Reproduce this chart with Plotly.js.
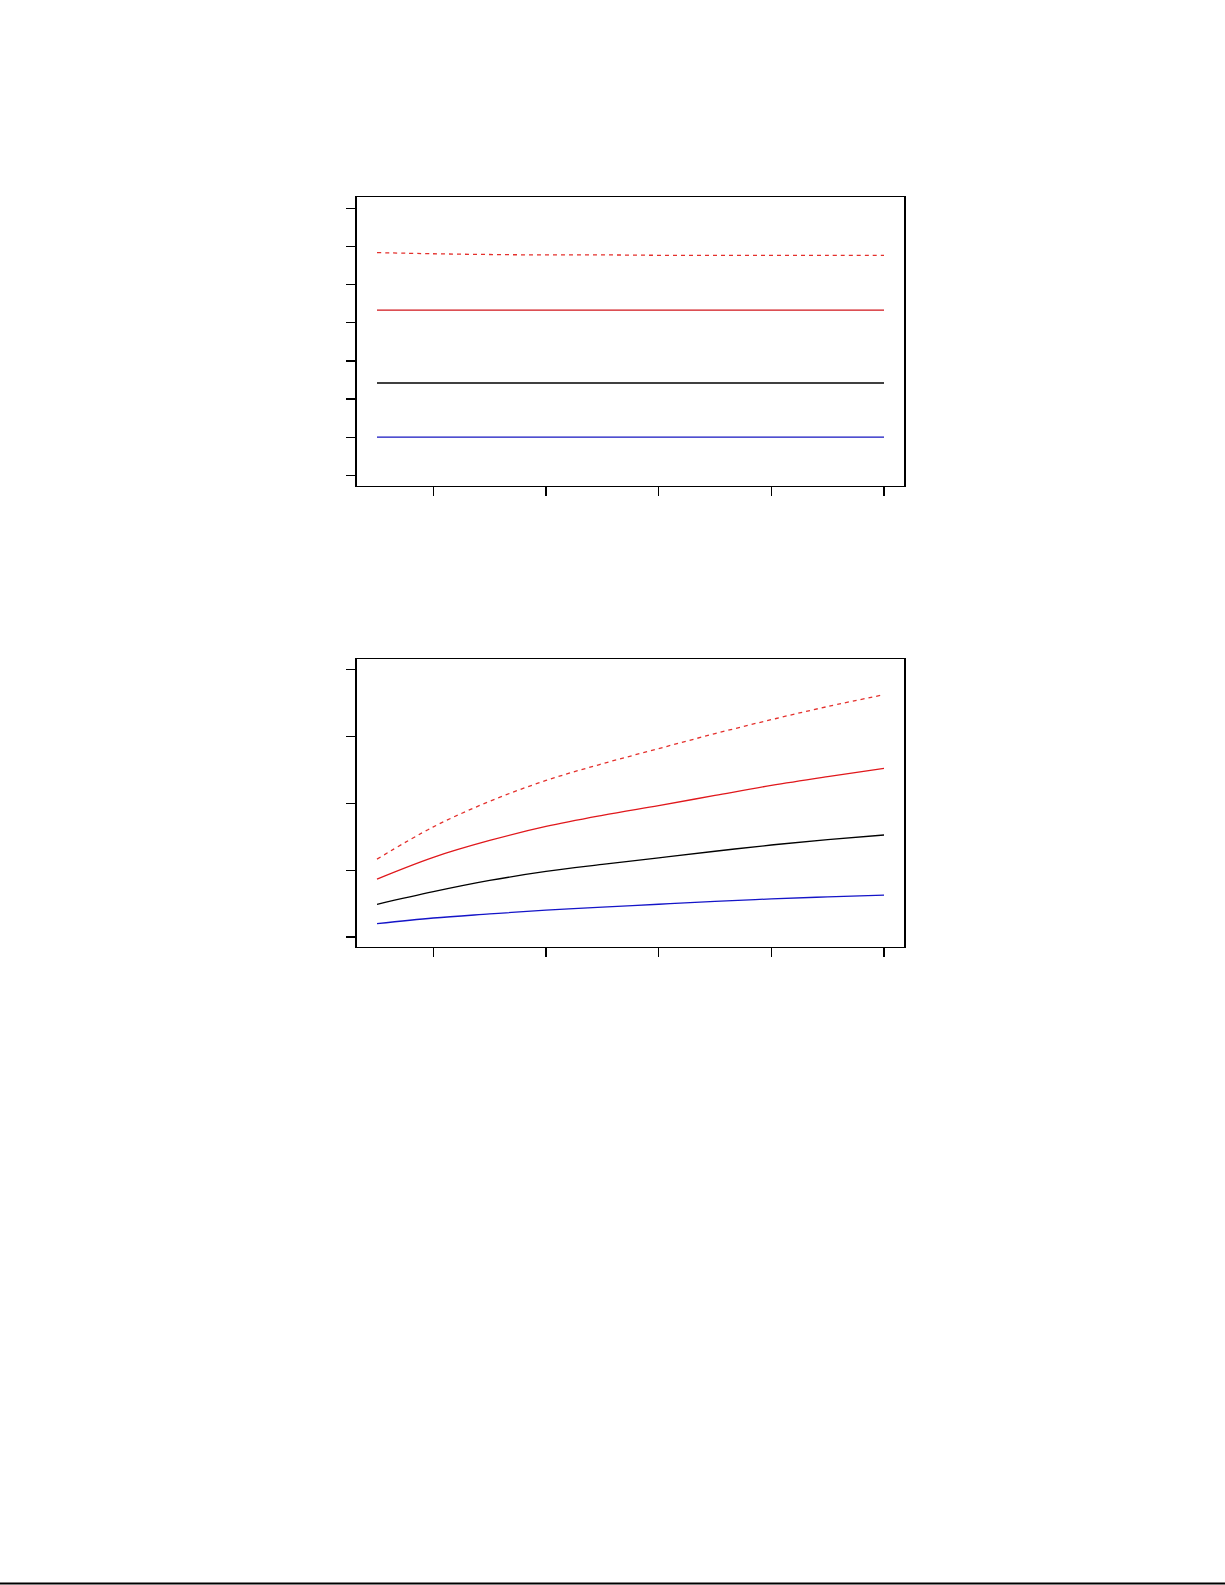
<!DOCTYPE html>
<html>
<head>
<meta charset="utf-8">
<script src="https://cdn.plot.ly/plotly-3.0.1.min.js"></script>
<style>
  html, body { margin: 0; padding: 0; background: #fff; }
</style>
</head>
<body>
<div id="myDiv" style="width:1225px;height:1585px;"></div>
<script>
var xVals = [1, 2, 3, 4, 5, 6, 7, 8, 9, 10];
var xTicks = [2, 4, 6, 8, 10];

// upper panel
var topBlue      = [1.00, 1.00, 1.00, 1.00, 1.00, 1.00, 1.00, 1.00, 1.00, 1.00];
var topBlack     = [2.42, 2.42, 2.42, 2.42, 2.42, 2.42, 2.42, 2.42, 2.42, 2.42];
var topRed       = [4.33, 4.33, 4.33, 4.33, 4.33, 4.33, 4.33, 4.33, 4.33, 4.33];
var topRedDashed = [5.84, 5.81, 5.79, 5.78, 5.78, 5.77, 5.77, 5.77, 5.77, 5.77];
var topTicks = [0, 1, 2, 3, 4, 5, 6, 7];

// lower panel
var botBlue      = [0.199, 0.284, 0.345, 0.402, 0.447, 0.490, 0.532, 0.570, 0.600, 0.627];
var botBlack     = [0.488, 0.677, 0.845, 0.980, 1.085, 1.184, 1.282, 1.375, 1.455, 1.525];
var botRed       = [0.866, 1.191, 1.443, 1.652, 1.818, 1.965, 2.116, 2.266, 2.398, 2.522];
var botRedDashed = [1.164, 1.646, 2.028, 2.340, 2.590, 2.816, 3.040, 3.249, 3.445, 3.622];
var botTicks = [0, 1, 2, 3, 4];

function line(y, color, xa, ya, dash) {
  return {
    type: 'scatter', mode: 'lines', x: xVals, y: y,
    xaxis: xa, yaxis: ya, hoverinfo: 'skip',
    line: { color: color, width: 1.3, dash: dash || 'solid', shape: 'spline', smoothing: 1 }
  };
}

var data = [
  line(topRedDashed, '#e4302c', 'x', 'y', '4px,4px'),
  line(topRed, '#d0141a', 'x', 'y'),
  line(topBlack, '#000000', 'x', 'y'),
  line(topBlue, '#1414c0', 'x', 'y'),
  line(botRedDashed, '#e4302c', 'x2', 'y2', '4px,4px'),
  line(botRed, '#e0181c', 'x2', 'y2'),
  line(botBlack, '#000000', 'x2', 'y2'),
  line(botBlue, '#1414c8', 'x2', 'y2')
];

var xBase = {
  domain: [0.2912, 0.7382], range: [0.64, 10.36],
  tickvals: xTicks, showticklabels: false, ticks: 'outside', ticklen: 9,
  tickwidth: 1.2, tickcolor: '#000', showline: true, mirror: true,
  linecolor: '#000', linewidth: 1.5, showgrid: false, zeroline: false
};
var yBase = {
  showticklabels: false, ticks: 'outside', ticklen: 9,
  tickwidth: 1.2, tickcolor: '#000', showline: true, mirror: true,
  linecolor: '#000', linewidth: 1.5, showgrid: false, zeroline: false
};

var layout = {
  width: 1225, height: 1585,
  margin: { l: 0, r: 0, t: 0, b: 0 },
  paper_bgcolor: '#fff', plot_bgcolor: '#fff',
  showlegend: false,
  xaxis: Object.assign({}, xBase, { anchor: 'y' }),
  yaxis: Object.assign({}, yBase, { domain: [0.6934, 0.8755], range: [-0.28, 7.29], tickvals: topTicks, anchor: 'x' }),
  xaxis2: Object.assign({}, xBase, { anchor: 'y2' }),
  yaxis2: Object.assign({}, yBase, { domain: [0.4027, 0.5840], range: [-0.145, 4.15], tickvals: botTicks, anchor: 'x2' }),
  shapes: [{
    type: 'line', xref: 'paper', yref: 'paper',
    x0: 0, x1: 1, y0: 0.001, y1: 0.001,
    line: { color: '#000', width: 2 }
  }]
};

Plotly.newPlot('myDiv', data, layout, { staticPlot: true });
</script>
</body>
</html>
